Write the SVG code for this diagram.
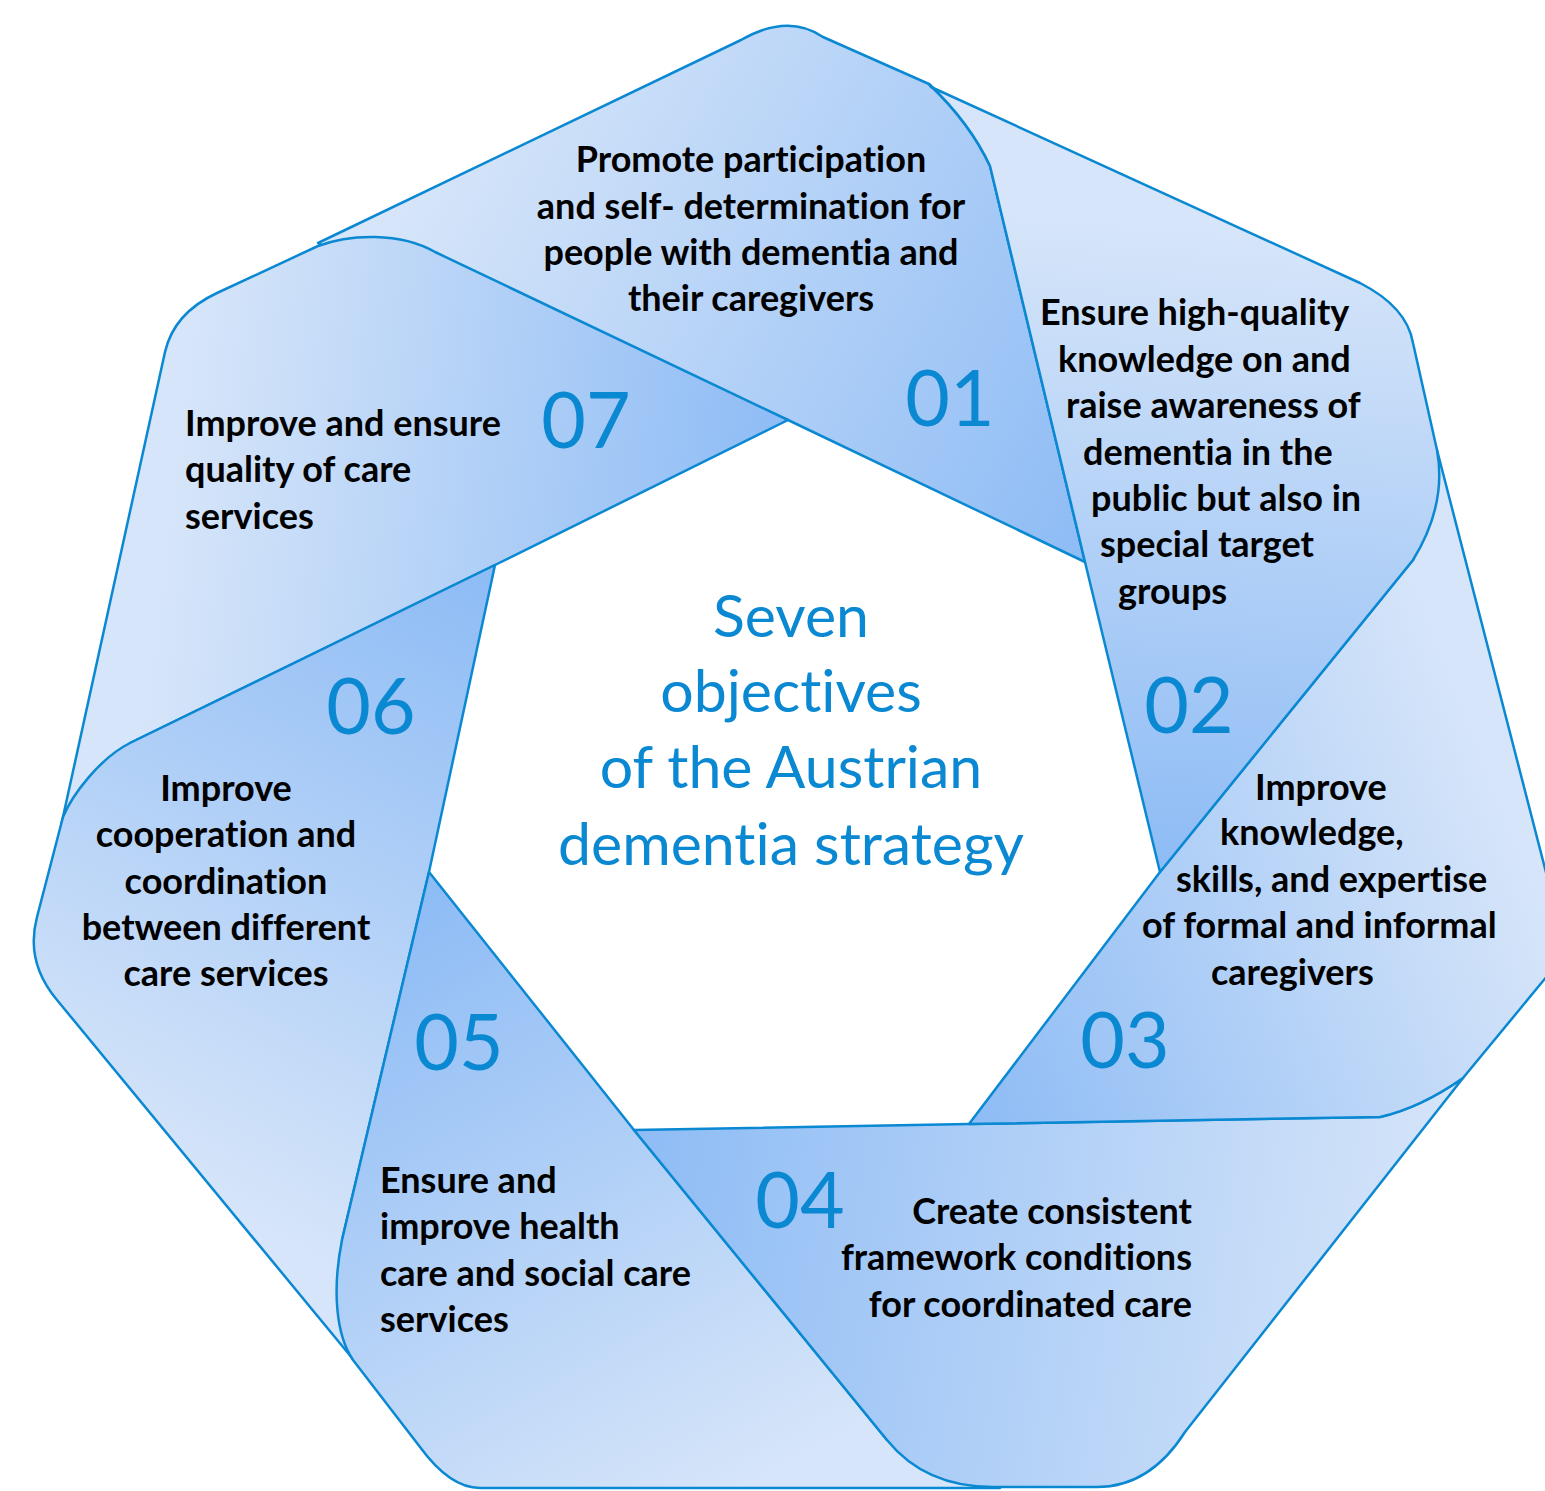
<svg xmlns="http://www.w3.org/2000/svg" width="1545" height="1491" viewBox="0 0 1545 1491">
<defs>
<linearGradient id="g01" gradientUnits="userSpaceOnUse" x1="1080" y1="555" x2="420" y2="180"><stop offset="0" stop-color="#8ebcf5"/><stop offset="1" stop-color="#d6e5f9"/></linearGradient>
<linearGradient id="g02" gradientUnits="userSpaceOnUse" x1="1150" y1="860" x2="1200" y2="230"><stop offset="0" stop-color="#8ebcf5"/><stop offset="1" stop-color="#d6e5f9"/></linearGradient>
<linearGradient id="g03" gradientUnits="userSpaceOnUse" x1="975" y1="1120" x2="1540" y2="900"><stop offset="0" stop-color="#8ebcf5"/><stop offset="1" stop-color="#d6e5f9"/></linearGradient>
<linearGradient id="g04" gradientUnits="userSpaceOnUse" x1="634" y1="1135" x2="1450" y2="1260"><stop offset="0" stop-color="#8ebcf5"/><stop offset="1" stop-color="#d6e5f9"/></linearGradient>
<linearGradient id="g05" gradientUnits="userSpaceOnUse" x1="435" y1="890" x2="760" y2="1480"><stop offset="0" stop-color="#8ebcf5"/><stop offset="1" stop-color="#d6e5f9"/></linearGradient>
<linearGradient id="g06" gradientUnits="userSpaceOnUse" x1="490" y1="580" x2="170" y2="1180"><stop offset="0" stop-color="#8ebcf5"/><stop offset="1" stop-color="#d6e5f9"/></linearGradient>
<linearGradient id="g07" gradientUnits="userSpaceOnUse" x1="785" y1="425" x2="190" y2="350"><stop offset="0" stop-color="#8ebcf5"/><stop offset="1" stop-color="#d6e5f9"/></linearGradient>
</defs>
<style>
.seg{stroke:#0a88d2;stroke-width:2.5;stroke-linejoin:round}
text{font-variant-ligatures:none}
.t{font-family:Lato,"Liberation Sans",sans-serif;font-weight:bold;font-size:36px;fill:#000}
.m{text-anchor:middle}
.e{text-anchor:end}
.n{font-family:Lato,"Liberation Sans",sans-serif;font-size:77px;fill:#0a88d2;text-anchor:middle}
.title{font-family:Lato,"Liberation Sans",sans-serif;font-size:59px;fill:#0a88d2;text-anchor:middle}
</style>
<rect width="1545" height="1491" fill="#ffffff"/>

<g id="obj01">
<path class="seg" fill="url(#g01)" d="M318,243 L741,40 Q788,13 823,37 L929,84 Q970,123 990,166 L1085,562 L788,420 L500,312 L330,250 Z"/>
<text class="t m"><tspan x="751" y="172">Promote participation</tspan><tspan x="751" y="219">and self- determination for</tspan><tspan x="751" y="265">people with dementia and</tspan><tspan x="751" y="311">their caregivers</tspan></text>
<text class="n" x="950" y="426">01</text>
</g>

<g id="obj07">
<path class="seg" fill="url(#g07)" d="M788,420 L495,565 L130,743 L61,826 L165,352 Q174,313 217,293 L318,246 C350,234 400,232 435,252 Z"/>
<text class="t"><tspan x="185" y="436">Improve and ensure</tspan><tspan x="185" y="482">quality of care</tspan><tspan x="185" y="529">services</tspan></text>
<text class="n" x="586" y="448">07</text>
</g>

<g id="obj06">
<path class="seg" fill="url(#g06)" d="M495,565 L429,872 L342,1240 L348,1300 L362,1370 L57,1000 Q25,962 37,917 L63,817 C72,795 100,758 130,743 Z"/>
<text class="t m"><tspan x="226" y="801">Improve</tspan><tspan x="226" y="847">cooperation and</tspan><tspan x="226" y="894">coordination</tspan><tspan x="226" y="940">between different</tspan><tspan x="226" y="986">care services</tspan></text>
<text class="n" x="371" y="734">06</text>
</g>

<g id="obj05">
<path class="seg" fill="url(#g05)" d="M429,872 L634,1130 L887,1440 L1000,1488 L480,1488 Q450,1488 420,1447 L353,1360 C336,1335 332,1290 342,1240 Z"/>
<text class="t"><tspan x="380" y="1193">Ensure and</tspan><tspan x="380" y="1239">improve health</tspan><tspan x="380" y="1286">care and social care</tspan><tspan x="380" y="1332">services</tspan></text>
<text class="n" x="459" y="1070">05</text>
</g>

<g id="obj04">
<path class="seg" fill="url(#g04)" d="M634,1130 L969,1124 L1380,1117 Q1420,1108 1463,1078 L1185,1432 Q1150,1487 1097,1487 L993,1487 Q925,1487 887,1440 Z"/>
<text class="t e"><tspan x="1192" y="1224">Create consistent</tspan><tspan x="1192" y="1270">framework conditions</tspan><tspan x="1192" y="1317">for coordinated care</tspan></text>
<text class="n" x="800" y="1228">04</text>
</g>

<g id="obj03">
<path class="seg" fill="url(#g03)" d="M969,1124 L1160,872 L1413,560 L1437,450 L1548,880 Q1568,930 1548,975 L1463,1078 Q1420,1108 1380,1117 Z"/>
<text class="t"><tspan x="1255" y="800">Improve</tspan><tspan x="1220" y="845">knowledge,</tspan><tspan x="1176" y="892">skills, and expertise</tspan><tspan x="1142" y="938">of formal and informal</tspan><tspan x="1211" y="985">caregivers</tspan></text>
<text class="n" x="1125" y="1068">03</text>
</g>

<g id="obj02">
<path class="seg" fill="url(#g02)" d="M931,87 L1360,283 Q1407,307 1413,343 L1437,450 Q1447,505 1413,560 L1160,872 L1085,562 L990,166 Q970,123 929,84 Z"/>
<text class="t"><tspan x="1040" y="325">Ensure high-quality</tspan><tspan x="1058" y="372">knowledge on and</tspan><tspan x="1066" y="418">raise awareness of</tspan><tspan x="1083" y="465">dementia in the</tspan><tspan x="1091" y="511">public but also in</tspan><tspan x="1100" y="557">special target</tspan><tspan x="1118" y="604">groups</tspan></text>
<text class="n" x="1189" y="733">02</text>
</g>

<g id="center">
<text class="title"><tspan x="791" y="637">Seven</tspan><tspan x="791" y="712">objectives</tspan><tspan x="791" y="788">of the Austrian</tspan><tspan x="791" y="865">dementia strategy</tspan></text>
</g>
<g id="connectors"/>
</svg>
